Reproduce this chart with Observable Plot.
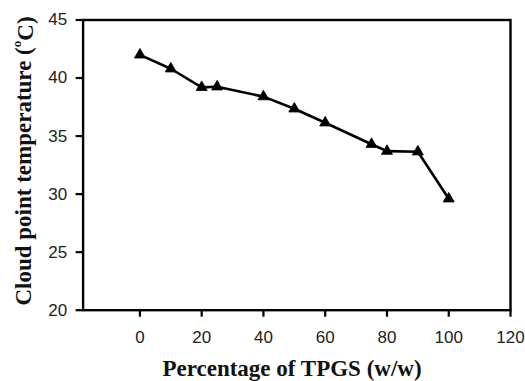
<!DOCTYPE html>
<html>
<head>
<meta charset="utf-8">
<script src="https://cdn.jsdelivr.net/npm/d3@7"></script>
<script src="https://cdn.jsdelivr.net/npm/@observablehq/plot@0.6"></script>
<style>
  html, body { margin: 0; padding: 0; background: #fff; }
  #chart svg { display: block; }
</style>
</head>
<body>
<div id="chart"></div>
<script>
const tpgs = [0, 10, 20, 25, 40, 50, 60, 75, 80, 90, 100];
const cloudPoint = [42.0, 40.8, 39.2, 39.25, 38.4, 37.35, 36.15, 34.3, 33.7, 33.65, 29.6];
const xTicks = [0, 20, 40, 60, 80, 100, 120];
const yTicks = [20, 25, 30, 35, 40, 45];
const xTitle = "Percentage of TPGS (w/w)";
const yTitle = ["Cloud point temperature (", "o", "C)"];

const data = tpgs.map((x, i) => ({x, y: cloudPoint[i]}));

const W = 525, H = 381;
const mL = 82.6, mR = 15, mT = 19.5, mB = 71.3;

const plot = Plot.plot({
  width: W,
  height: H,
  marginLeft: mL,
  marginRight: mR,
  marginTop: mT,
  marginBottom: mB,
  style: {background: "#fff", color: "#000", fontFamily: "'Liberation Sans', Arial, sans-serif"},
  x: {domain: [-18.4, 120], ticks: xTicks},
  y: {domain: [20, 45], ticks: yTicks},
  marks: [
    Plot.axisX({ticks: xTicks, tickSize: 7, tickPadding: 14, strokeWidth: 2.2, fontSize: 17, fill: "#222", label: null}),
    Plot.axisY({ticks: yTicks, tickSize: 7, tickPadding: 9, strokeWidth: 2.2, fontSize: 17, fill: "#222", label: null}),
    Plot.frame({stroke: "#000", strokeWidth: 2.4}),
    Plot.line(data, {x: "x", y: "y", stroke: "#000", strokeWidth: 2.6}),
    Plot.dot(data, {x: "x", y: "y", symbol: "triangle", r: 4.1, fill: "#000", stroke: "#000", strokeWidth: 0.8})
  ]
});

const svg = d3.select(plot);
const plotCx = mL + (W - mL - mR) / 2;
svg.append("text")
  .attr("x", 292)
  .attr("y", 376)
  .attr("text-anchor", "middle")
  .attr("font-family", "'Liberation Serif', 'Times New Roman', serif")
  .attr("font-weight", "bold")
  .attr("font-size", 23)
  .attr("fill", "#111")
  .text(xTitle);

const yt = svg.append("text")
  .attr("transform", `translate(31, ${(13 + 309) / 2}) rotate(-90)`)
  .attr("text-anchor", "middle")
  .attr("font-family", "'Liberation Serif', 'Times New Roman', serif")
  .attr("font-weight", "bold")
  .attr("font-size", 23)
  .attr("fill", "#111");
yt.append("tspan").text(yTitle[0]);
yt.append("tspan").attr("font-size", 13).attr("dy", "-0.75em").text(yTitle[1]);
yt.append("tspan").attr("dy", "0.5em").text(yTitle[2]);

document.getElementById("chart").appendChild(plot);
</script>
</body>
</html>
